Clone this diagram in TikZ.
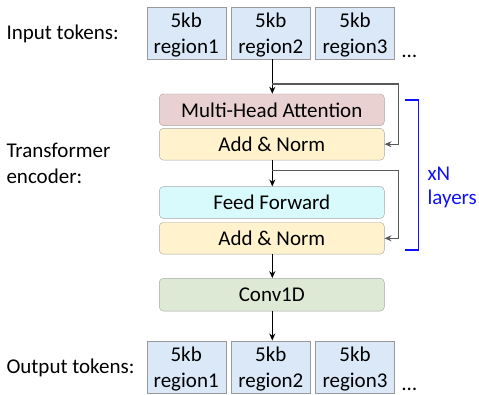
\documentclass[tikz,border=0pt]{standalone}
\usepackage{fontspec}
\setmainfont{Carlito}
\usetikzlibrary{arrows.meta}
\definecolor{tokfill}{HTML}{DAE8F8}
\definecolor{attfill}{HTML}{EAD1D1}
\definecolor{normfill}{HTML}{FFF2CC}
\definecolor{fffill}{HTML}{D8FAFC}
\definecolor{convfill}{HTML}{DDE8D5}
\definecolor{resgray}{HTML}{595959}
\definecolor{brblue}{HTML}{1010FF}
\begin{document}
\begin{tikzpicture}[x=1pt,y=-1pt,font=\fontsize{21}{26}\selectfont,
    token/.style={draw=gray!80,fill=tokfill,minimum width=79pt,minimum height=52.6pt,
      inner sep=0pt,align=center,text depth=0pt},
    layer/.style={draw=gray!70,rounded corners=4pt,minimum width=225pt,minimum height=31.7pt,inner sep=0pt},
    flow/.style={-{Stealth[length=7pt,width=6pt]},line width=1.1pt},
    res/.style={-{Stealth[length=7pt,width=6pt]},line width=1.1pt,resgray}]
  \useasboundingbox (0,0) rectangle (479,394);
  % left labels
  \node[anchor=west] (lin) at (3,34) {Input tokens:};
  \node[anchor=west,align=left] (lenc) at (3,163) {Transformer\\encoder:};
  \node[anchor=west] (lout) at (3,368) {Output tokens:};
  % input tokens
  \node[token] (in1) at (186.2,33) {5kb\\region1};
  \node[token] (in2) at (270.8,33) {5kb\\region2};
  \node[token] (in3) at (355,33) {5kb\\region3};
  \node[anchor=base west,inner sep=0pt] (indots) at (402,57) {\dots};
  % encoder layers
  \node[layer,fill=attfill] (mha) at (271.8,109.8) {Multi-Head Attention};
  \node[layer,fill=normfill] (an1) at (271.8,144.2) {Add \& Norm};
  \node[layer,fill=fffill] (ff) at (271.8,202.5) {Feed Forward};
  \node[layer,fill=normfill] (an2) at (271.8,238.3) {Add \& Norm};
  \node[layer,fill=convfill,minimum height=32.7pt] (conv) at (271.8,294.7) {Conv1D};
  % output tokens
  \node[token] (out1) at (186.2,367) {5kb\\region1};
  \node[token] (out2) at (270.8,367) {5kb\\region2};
  \node[token] (out3) at (355,367) {5kb\\region3};
  \node[anchor=base west,inner sep=0pt] (outdots) at (402,390) {\dots};
  % main path
  \draw[flow] (272.3,59.3) -- (mha.north -| 272.3,0);
  \draw[flow] (an1.south -| 272.3,0) -- (ff.north -| 272.3,0);
  \draw[flow] (an2.south -| 272.3,0) -- (conv.north -| 272.3,0);
  \draw[flow] (conv.south -| 272.3,0) -- (out2.north -| 272.3,0);
  % residual connections
  \coordinate (split1) at (272.3,84);
  \coordinate (split2) at (272.3,170.7);
  \draw[res] (split1) -- (398.3,84) |- (an1.east);
  \draw[res] (split2) -- (398.3,170.7) |- (an2.east);
  % layer bracket
  \draw[brblue,line width=1.3pt] (405,100) -- (418.3,100) -- (418.3,250) -- (405,250);
  \node[anchor=west,brblue,align=left,font=\fontsize{21}{24}\selectfont] (xn) at (424,187) {xN\\layers};
\end{tikzpicture}
\end{document}
